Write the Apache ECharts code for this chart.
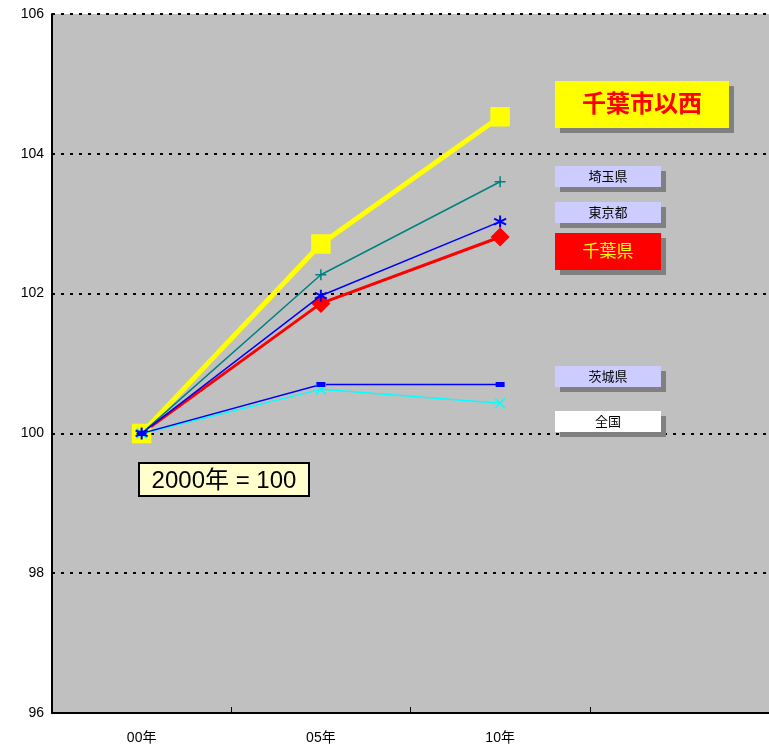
<!DOCTYPE html>
<html><head><meta charset="utf-8">
<script src="https://cdn.jsdelivr.net/npm/echarts@6/dist/echarts.min.js"></script>
<style>html,body{margin:0;padding:0;background:#fff}#c{width:769px;height:745px}</style>
</head><body><div id="c"></div>
<script>
const categories = ['00年', '05年', '10年', ''];
const yTicks = [96, 98, 100, 102, 104, 106];
const chibaWest = [100, 102.71, 104.53];
const saitama = [100, 102.27, 103.60];
const tokyo = [100, 101.97, 103.03];
const chibaPref = [100, 101.86, 102.81];
const ibaraki = [100, 100.70, 100.70];
const national = [100, 100.63, 100.43];
const seriesNames = ['千葉市以西', '埼玉県', '東京都', '千葉県', '茨城県', '全国'];
const baseNote = '2000年 = 100';

const FONT = '"Liberation Sans", "Noto Sans CJK JP", sans-serif';
const chart = echarts.init(document.getElementById('c'));

function box(x, y, w, h, fill, text, textColor, fontSize, extra) {
  const els = [
    {type:'rect', shape:{x:x+5, y:y+5, width:w, height:h}, style:{fill:'#808080'}, z:10},
    {type:'rect', shape:{x:x, y:y, width:w, height:h}, style:Object.assign({fill:fill}, extra && extra.rect || {}), z:11},
    {type:'text', x:x+w/2, y:y+h/2+1, z:12, style:Object.assign({text:text, fill:textColor, font:(extra&&extra.weight||'normal')+' '+fontSize+'px '+FONT, align:'center', verticalAlign:'middle'}, extra && extra.text || {})}
  ];
  return els;
}

const graphics = [].concat(
  box(555, 81, 174, 47, '#ffff00', seriesNames[0], '#ff0000', 24, {weight:'bold', text:{textShadowColor:'#330000', textShadowOffsetX:2, textShadowOffsetY:2, textShadowBlur:0}}),
  box(555, 166, 106, 21, '#ccccff', seriesNames[1], '#000', 13),
  box(555, 202, 106, 21, '#ccccff', seriesNames[2], '#000', 13),
  box(555, 233, 106, 37, '#ff0000', seriesNames[3], '#ffff00', 17),
  box(555, 366, 106, 21, '#ccccff', seriesNames[4], '#000', 13),
  box(555, 411, 106, 21, '#ffffff', seriesNames[5], '#000', 13),
  [
    {type:'rect', shape:{x:139, y:463, width:170, height:33}, style:{fill:'#ffffcc', stroke:'#000', lineWidth:2}, z:11},
    {type:'text', x:224, y:481, z:12, style:{text:baseNote, fill:'#000', font:'24px '+FONT, align:'center', verticalAlign:'middle'}}
  ]
);

function lineSeries(name, data, color, width, symbol, size, extra) {
  return Object.assign({
    name, type:'line', data, symbol, symbolSize:size, showSymbol:true,
    lineStyle:{color, width}, itemStyle:{color, borderColor:color, borderWidth:1.5},
    animation:false
  }, extra || {});
}

chart.setOption({
  animation:false,
  backgroundColor:'#ffffff',
  grid:{left:52, right:-3, top:14, bottom:31, show:true, backgroundColor:'#c0c0c0', borderWidth:0},
  xAxis:{type:'category', data:categories, boundaryGap:true,
    axisLine:{lineStyle:{color:'#000', width:2}},
    axisTick:{show:true, alignWithLabel:false, length:-6, lineStyle:{color:'#000', width:1}},
    axisLabel:{color:'#000', fontSize:14, fontFamily:FONT, margin:18},
    splitLine:{show:false}},
  yAxis:{type:'value', min:yTicks[0], max:yTicks[yTicks.length-1], interval:2,
    axisLine:{show:true, lineStyle:{color:'#000', width:2}},
    axisTick:{show:false},
    axisLabel:{color:'#000', fontSize:14, fontFamily:FONT, margin:8},
    splitLine:{show:true, lineStyle:{color:'#000', width:2, type:[3,6]}}},
  series:[
    lineSeries(seriesNames[3], chibaPref, '#ff0000', 3, 'diamond', 17, {z:2}),
    lineSeries(seriesNames[0], chibaWest, '#ffff00', 5, 'rect', 18, {z:3}),
    lineSeries(seriesNames[1], saitama, '#008080', 1.5, 'path://M5,0L5,10M0,5L10,5', 11, {z:4, itemStyle:{color:'none', borderColor:'#008080', borderWidth:1.5}}),
    lineSeries(seriesNames[5], national, '#00ffff', 1.5, 'path://M0,0L10,10M0,10L10,0', 10, {z:4, itemStyle:{color:'none', borderColor:'#00ffff', borderWidth:1.5}}),
    lineSeries(seriesNames[4], ibaraki, '#0000ff', 1.5, 'rect', [7,4], {z:4}),
    lineSeries(seriesNames[2], tokyo, '#0000ff', 1.5, 'path://M5,0L5,10M0.7,2.5L9.3,7.5M0.7,7.5L9.3,2.5', 12, {z:5, itemStyle:{color:'none', borderColor:'#0000ff', borderWidth:2}})
  ],
  graphic: graphics
});
</script></body></html>
